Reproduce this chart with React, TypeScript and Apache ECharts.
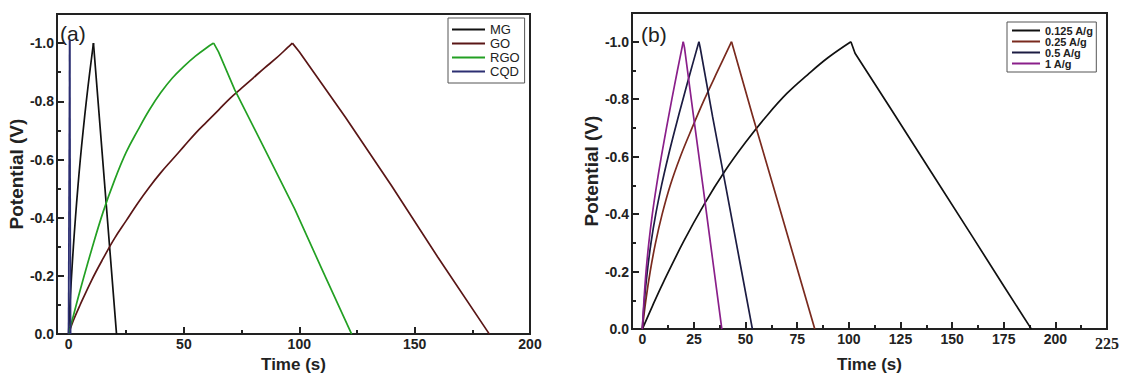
import React, { useEffect, useRef } from "react";
import * as echarts from "echarts";

// ---- Panel (a) data: charge branch (to peak) and discharge branch (from peak) ----
const seriesNamesA = ["MG", "GO", "RGO", "CQD"];
const colorsA = ["#111111", "#5a1616", "#23a023", "#2c2f72"];
const mgCharge = [[0, 0], [0.6, -0.1], [1.3, -0.2], [2.1, -0.3], [3.0, -0.4], [4.0, -0.5], [5.1, -0.6], [6.35, -0.7], [7.7, -0.8], [9.2, -0.9], [10.8, -1.0]];
const mgDischarge = [[10.8, -1.0], [15.8, -0.5], [20.8, 0]];
const goCharge = [[0, 0], [2, -0.045], [5, -0.1], [10, -0.185], [15, -0.26], [20, -0.33], [25, -0.39], [30, -0.45], [35, -0.505], [40, -0.555], [45, -0.6], [50, -0.645], [55, -0.69], [60, -0.73], [65, -0.77], [70, -0.81], [75, -0.845], [80, -0.88], [85, -0.915], [90, -0.948], [95, -0.985], [97, -1.0]];
const goDischarge = [[97, -1.0], [100, -0.97], [120, -0.745], [140, -0.51], [160, -0.265], [182.4, 0]];
const rgoCharge = [[0, 0], [2.5, -0.075], [5, -0.15], [10, -0.29], [15, -0.42], [20, -0.53], [25, -0.625], [30, -0.7], [35, -0.77], [40, -0.83], [45, -0.88], [50, -0.92], [55, -0.955], [60, -0.985], [62.9, -1.0]];
const rgoDischarge = [[62.9, -1.0], [65, -0.97], [72, -0.84], [86, -0.62], [98, -0.43], [110, -0.22], [122.7, 0]];
const cqdCharge = [[0, 0], [0.5, -1.01]];
const cqdDischarge = [[0.5, -1.01], [0.9, 0]];
const xMajorA = [0, 50, 100, 150, 200];
const xMinorA = [25, 75, 125, 175];

// ---- Panel (b) data ----
const seriesNamesB = ["0.125 A/g", "0.25 A/g", "0.5 A/g", "1 A/g"];
const colorsB = ["#111111", "#7a2a1e", "#1c1c42", "#8a1f8a"];
const c0125Charge = [[0, 0], [5, -0.082], [10, -0.16], [20, -0.305], [30, -0.435], [40, -0.55], [50, -0.65], [60, -0.74], [70, -0.82], [80, -0.885], [90, -0.945], [101, -1.0]];
const c0125Discharge = [[101, -1.0], [103, -0.96], [120, -0.77], [140, -0.545], [160, -0.32], [175, -0.15], [188.4, 0]];
const c025Charge = [[0, 0], [1.7, -0.1], [3.8, -0.2], [6.4, -0.3], [9.6, -0.4], [13.5, -0.5], [18.4, -0.6], [24.1, -0.7], [30.1, -0.8], [36.6, -0.9], [43.2, -1.0]];
const c025Discharge = [[43.2, -1.0], [44, -0.98], [53.5, -0.74], [63.3, -0.5], [73.4, -0.25], [83.5, 0]];
const c05Charge = [[0, 0], [1, -0.1], [2.4, -0.2], [4.2, -0.3], [6.5, -0.4], [9.3, -0.5], [12.5, -0.6], [16, -0.7], [19.7, -0.8], [23.5, -0.9], [27.4, -1.0]];
const c05Discharge = [[27.4, -1.0], [28, -0.98], [34, -0.74], [40.3, -0.5], [46.8, -0.25], [53.3, 0]];
const c1Charge = [[0, 0], [0.8, -0.1], [1.8, -0.2], [3.15, -0.3], [4.85, -0.4], [6.9, -0.5], [9.2, -0.6], [11.7, -0.7], [14.3, -0.8], [17.0, -0.9], [19.8, -1.0]];
const c1Discharge = [[19.8, -1.0], [20.4, -0.98], [24.8, -0.74], [29.3, -0.5], [33.9, -0.25], [38.5, 0]];
const xMajorB = [0, 25, 50, 75, 100, 125, 150, 175, 200, 225];
const xMinorB = [12.5, 37.5, 62.5, 87.5, 112.5, 137.5, 162.5, 187.5, 212.5];

// ---- shared y ticks ----
const yMajor = [0, -0.2, -0.4, -0.6, -0.8, -1.0];
const yMinor = [-0.1, -0.3, -0.5, -0.7, -0.9];

const FONT = "Liberation Sans, Arial, sans-serif";

function xAxes(gridIndex: number, min: number, max: number, major: number[], minor: number[]) {
  return [
    {
      type: "value", gridIndex, min, max, position: "bottom",
      axisLine: { show: false, onZero: false },
      splitLine: { show: false },
      axisTick: { show: true, inside: true, length: 7, customValues: major, lineStyle: { color: "#222", width: 2 } },
      axisLabel: {
        show: true, customValues: major, margin: 3,
        formatter: (v: number) => (v === 225 ? "{s|225}" : "{b|" + v + "}"),
        rich: {
          b: { fontSize: 14, fontWeight: "bold", color: "#222", fontFamily: FONT },
          s: { fontSize: 16, fontWeight: "bold", color: "#222", fontFamily: "Liberation Serif, Times New Roman, serif", padding: [3, 0, 0, 0] },
        },
      },
      name: "Time (s)", nameLocation: "middle", nameGap: 12,
      nameTextStyle: { fontSize: 17, fontWeight: "bold", color: "#222", fontFamily: FONT },
    },
    {
      type: "value", gridIndex, min, max, position: "bottom",
      axisLine: { show: false, onZero: false },
      splitLine: { show: false },
      axisTick: { show: true, inside: true, length: 4, customValues: minor, lineStyle: { color: "#222", width: 2 } },
      axisLabel: { show: false },
    },
  ];
}

function yAxes(gridIndex: number) {
  return [
    {
      type: "value", gridIndex, min: -1.1, max: 0, inverse: true, position: "left",
      axisLine: { show: false, onZero: false },
      splitLine: { show: false },
      axisTick: { show: true, inside: true, length: 7, customValues: yMajor, lineStyle: { color: "#222", width: 2 } },
      axisLabel: {
        show: true, customValues: yMajor, margin: 3,
        formatter: (v: number) => v.toFixed(1),
        fontSize: 14, fontWeight: "bold", color: "#222", fontFamily: FONT,
      },
      name: "Potential (V)", nameLocation: "middle", nameGap: 29,
      nameTextStyle: { fontSize: 19, fontWeight: "bold", color: "#222", fontFamily: FONT },
    },
    {
      type: "value", gridIndex, min: -1.1, max: 0, inverse: true, position: "left",
      axisLine: { show: false, onZero: false },
      splitLine: { show: false },
      axisTick: { show: true, inside: true, length: 4, customValues: yMinor, lineStyle: { color: "#222", width: 2 } },
      axisLabel: { show: false },
    },
  ];
}

function lineSeries(name: string, data: number[][], color: string, axisIdx: number, smooth: boolean) {
  return {
    type: "line", name, data, xAxisIndex: axisIdx, yAxisIndex: axisIdx,
    showSymbol: false, symbol: "none",
    smooth: smooth ? 0.4 : false,
    lineStyle: { color, width: 1.7 }, itemStyle: { color },
  };
}

export default function App() {
  const ref = useRef<HTMLDivElement>(null);
  useEffect(() => {
    if (!ref.current) return;
    const chart = echarts.init(ref.current, undefined, { renderer: "svg" });
    const chargeA = [mgCharge, goCharge, rgoCharge, cqdCharge];
    const dischargeA = [mgDischarge, goDischarge, rgoDischarge, cqdDischarge];
    const chargeB = [c0125Charge, c025Charge, c05Charge, c1Charge];
    const dischargeB = [c0125Discharge, c025Discharge, c05Discharge, c1Discharge];
    const series: any[] = [];
    seriesNamesA.forEach((n, i) => {
      series.push(lineSeries(n, chargeA[i], colorsA[i], 0, true));
      series.push(lineSeries(n, dischargeA[i], colorsA[i], 0, false));
    });
    seriesNamesB.forEach((n, i) => {
      series.push(lineSeries(n, chargeB[i], colorsB[i], 2, true));
      series.push(lineSeries(n, dischargeB[i], colorsB[i], 2, false));
    });
    chart.setOption({
      animation: false,
      backgroundColor: "#ffffff",
      grid: [
        { left: 57, top: 14, width: 473, height: 334, show: true, borderColor: "#222", borderWidth: 2, backgroundColor: "transparent" },
        { left: 632, top: 13, width: 475, height: 334, show: true, borderColor: "#222", borderWidth: 2, backgroundColor: "transparent" },
      ],
      xAxis: [
        ...xAxes(0, -5, 200, xMajorA, xMinorA),
        ...xAxes(1, -5, 225, xMajorB, xMinorB),
      ],
      yAxis: [...yAxes(0), ...yAxes(1)],
      legend: [
        {
          data: seriesNamesA, orient: "vertical", left: 448, top: 18,
          icon: "rect", itemWidth: 33, itemHeight: 2, itemGap: 1,
          borderColor: "#555", borderWidth: 1, padding: [5, 5, 5, 4],
          textStyle: { fontSize: 13, color: "#222", fontFamily: FONT },
        },
        {
          data: seriesNamesB, orient: "vertical", left: 1007, top: 22,
          icon: "rect", itemWidth: 28, itemHeight: 2, itemGap: 0,
          borderColor: "#555", borderWidth: 1, padding: [3, 3, 3, 5],
          textStyle: { fontSize: 11, fontWeight: "bold", color: "#222", fontFamily: FONT },
        },
      ],
      graphic: [
        { type: "text", left: 60, top: 23, style: { text: "(a)", fontSize: 21, fill: "#222", fontFamily: FONT } },
        { type: "text", left: 641, top: 24, style: { text: "(b)", fontSize: 21, fill: "#222", fontFamily: FONT } },
      ],
      series,
    });
    return () => chart.dispose();
  }, []);
  return (
    <div
      ref={ref}
      style={{ position: "fixed", left: 0, top: 0, width: 1123, height: 378, background: "#fff" }}
    />
  );
}
